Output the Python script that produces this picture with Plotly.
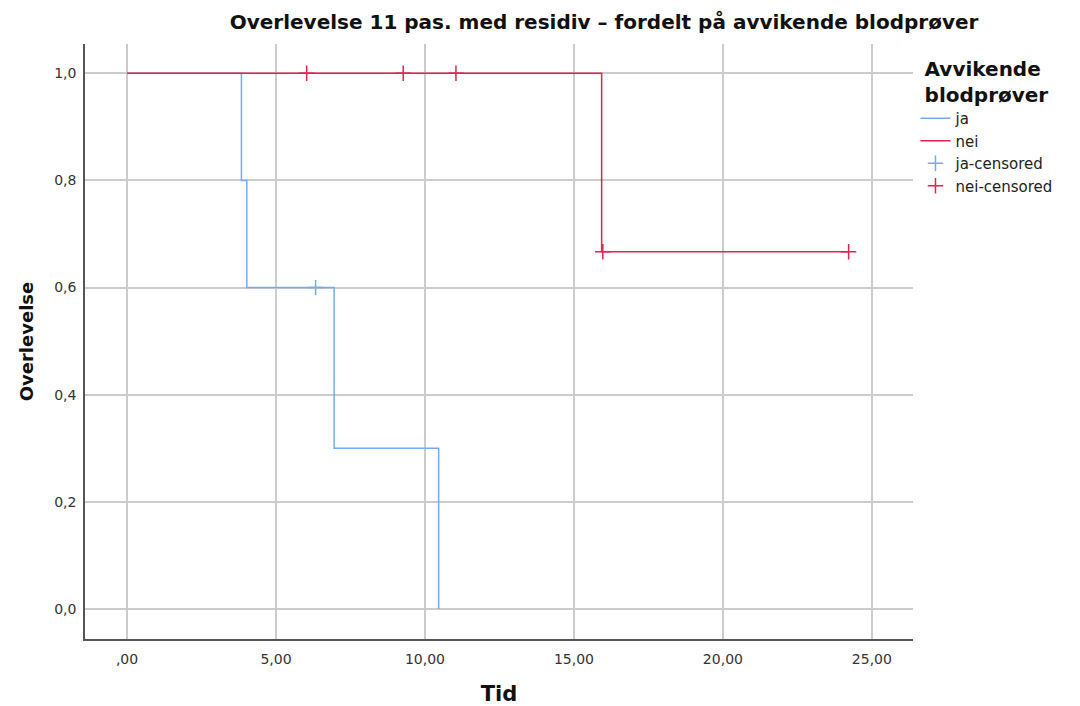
import plotly.graph_objects as go

# Kaplan-Meier step data (time, survival)
ja_time = [0.0, 3.84, 4.02, 6.95, 10.46]
ja_surv = [1.0, 0.8, 0.6, 0.3, 0.0]
nei_time = [0.0, 15.93, 24.22]
nei_surv = [1.0, 0.667, 0.667]

# censored observations
ja_cens_time = [6.33]
ja_cens_surv = [0.6]
nei_cens_time = [6.03, 9.27, 11.04, 15.97, 24.22]
nei_cens_surv = [1.0, 1.0, 1.0, 0.667, 0.667]

x_ticks = [0, 5, 10, 15, 20, 25]
x_tick_labels = [",00", "5,00", "10,00", "15,00", "20,00", "25,00"]
y_ticks = [0, 0.2, 0.4, 0.6, 0.8, 1.0]
y_tick_labels = ["0,0", "0,2", "0,4", "0,6", "0,8", "1,0"]

BLUE = "#74AAF0"
RED = "#E2234F"
FONT = "DejaVu Sans"

fig = go.Figure()
fig.add_trace(go.Scatter(x=ja_time, y=ja_surv, mode="lines", line_shape="hv",
                         line=dict(color=BLUE, width=1.5), name="ja"))
fig.add_trace(go.Scatter(x=nei_time, y=nei_surv, mode="lines", line_shape="hv",
                         line=dict(color=RED, width=1.5), name="nei"))
fig.add_trace(go.Scatter(x=ja_cens_time, y=ja_cens_surv, mode="markers",
                         marker=dict(symbol="cross-thin", size=11, line=dict(color=BLUE, width=1.5)),
                         name="ja-censored"))
fig.add_trace(go.Scatter(x=nei_cens_time, y=nei_cens_surv, mode="markers",
                         marker=dict(symbol="cross-thin", size=11, line=dict(color=RED, width=1.5)),
                         name="nei-censored"))

fig.update_layout(
    width=1072, height=698,
    margin=dict(l=77, r=167, t=36, b=67),
    paper_bgcolor="white", plot_bgcolor="white",
    font=dict(family=FONT, color="#222"),
    title=dict(text="<b>Overlevelse 11 pas. med residiv – fordelt på avvikende blodprøver</b>",
               x=0.556, xanchor="center", y=0.98, yanchor="middle",
               font=dict(size=20, family=FONT, color="#111")),
    showlegend=True,
    legend=dict(x=1.003, xanchor="left", y=0.99, yanchor="top",
                title=dict(text="<b>Avvikende<br>blodprøver</b>", side="top center",
                           font=dict(size=20, family=FONT, color="#111")),
                font=dict(size=15, family=FONT, color="#222"),
                itemwidth=30, tracegroupgap=0, bgcolor="rgba(0,0,0,0)"),
    xaxis=dict(range=[-1.41, 26.38], tickvals=x_ticks, ticktext=x_tick_labels,
               showgrid=True, gridcolor="#CCCCCC", gridwidth=1.5, zeroline=False,
               showline=True, linecolor="#555", linewidth=1.5, automargin=False,
               ticks="outside", ticklen=6, tickcolor="rgba(0,0,0,0)",
               tickfont=dict(size=14, color="#333"),
               title=dict(text="<b>Tid</b>", font=dict(size=21, color="#111"), standoff=31)),
    yaxis=dict(range=[-0.056, 1.0547], tickvals=y_ticks, ticktext=y_tick_labels,
               showgrid=True, gridcolor="#CCCCCC", gridwidth=1.5, zeroline=False,
               showline=True, linecolor="#555", linewidth=1.5, automargin=False,
               ticks="outside", ticklen=4, tickcolor="rgba(0,0,0,0)",
               tickfont=dict(size=14, color="#333"),
               title=dict(text="<b>Overlevelse</b>", font=dict(size=18, color="#111"), standoff=16)),
)

fig.write_html("out.html")
